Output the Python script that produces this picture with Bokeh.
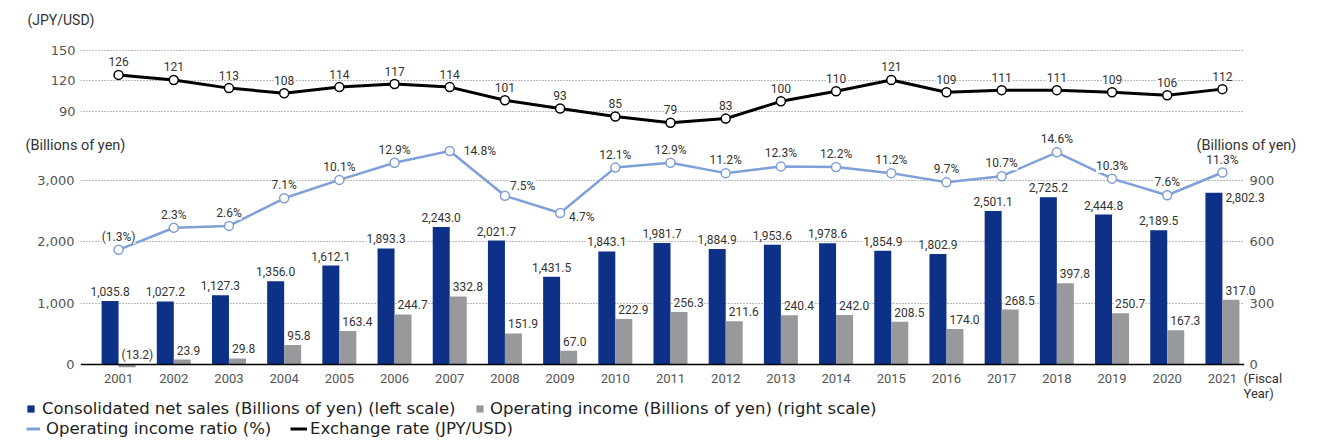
import numpy as np
from bokeh.plotting import figure
from bokeh.models import (ColumnDataSource, Range1d, LinearAxis, FixedTicker,
                          NumeralTickFormatter, LabelSet, Label, Span, Legend, LegendItem)
from bokeh.core.properties import value
from bokeh.layouts import column
from bokeh.embed import file_html
from bokeh.resources import INLINE

# ---------------- data ----------------
years = list(range(2001, 2022))
net_sales = [1035.8, 1027.2, 1127.3, 1356.0, 1612.1, 1893.3, 2243.0, 2021.7, 1431.5, 1843.1,
             1981.7, 1884.9, 1953.6, 1978.6, 1854.9, 1802.9, 2501.1, 2725.2, 2444.8, 2189.5, 2802.3]
op_income = [-13.2, 23.9, 29.8, 95.8, 163.4, 244.7, 332.8, 151.9, 67.0, 222.9,
             256.3, 211.6, 240.4, 242.0, 208.5, 174.0, 268.5, 397.8, 250.7, 167.3, 317.0]
op_ratio = [-1.3, 2.3, 2.6, 7.1, 10.1, 12.9, 14.8, 7.5, 4.7, 12.1,
            12.9, 11.2, 12.3, 12.2, 11.2, 9.7, 10.7, 14.6, 10.3, 7.6, 11.3]
fx_rate = [126, 121, 113, 108, 114, 117, 114, 101, 93, 85,
           79, 83, 100, 110, 121, 109, 111, 111, 109, 106, 112]
fx_ticks = [90, 120, 150]
left_ticks = [0, 1000, 2000, 3000]
right_ticks = [0, 300, 600, 900]

# ---------------- style ----------------
NAVY = "#0E3188"
GRAY = "#97999C"
BLUE = "#7F9FD9"
TXT = "#333333"
TICK = "#555555"
GRID = "#777777"
FONT = "Roboto"
WIDE = "DejaVu Sans"

W = 1326
FL, FR = 80, 1244                 # frame left / right (px)
XL, XR = 2000.31, 2021.40
PX_X = (FR - FL) / (XR - XL)
BAR_W = 0.308
yrs = np.array(years, dtype=float)
x_range = Range1d(XL, XR)

# bottom chart geometry (page px)
B_TOP, B_H = 130, 270
BF_TOP, BF_BOT = 132, 370
LY0, LY1 = -97.83, 3782.6
K = (BF_BOT - BF_TOP) / (LY1 - LY0)
RIGHT_SCALE = 0.3                  # right axis = left axis * 0.3
RATIO_ZERO, RATIO_UNIT = 2000.0, 100.0


def right_of(v):
    return v * RIGHT_SCALE


def ratio_of(v):
    return (v - RATIO_ZERO) / RATIO_UNIT


def left_at(py):
    return LY0 + (BF_BOT - py) / K


def fmt_num(v):
    return f"({abs(v):,.1f})" if v < 0 else f"{v:,.1f}"


def fmt_pct(v):
    return f"({abs(v):.1f}%)" if v < 0 else f"{v:.1f}%"


def add_labels(fig, xs, ys, texts, align="center", xoff=0, yoff=0, size="12px",
               y_range_name="default"):
    src = ColumnDataSource(dict(x=list(xs), y=list(ys), t=list(texts)))
    ls = LabelSet(x="x", y="y", text="t", source=src, text_align=align,
                  text_baseline="middle", x_offset=xoff, y_offset=yoff,
                  text_font=value(FONT), text_font_size=size, text_color=TXT,
                  background_fill_color="white", y_range_name=y_range_name)
    fig.add_layout(ls)


def style_yaxis(ax, ticks, standoff):
    ax.ticker = FixedTicker(ticks=ticks)
    ax.axis_line_color = None
    ax.major_tick_line_color = None
    ax.minor_tick_line_color = None
    ax.major_tick_out = 0
    ax.major_tick_in = 0
    ax.minor_tick_out = 0
    ax.major_label_standoff = standoff
    ax.major_label_text_font = WIDE
    ax.major_label_text_font_size = "13px"
    ax.major_label_text_color = TICK


# ---------------- top: exchange rate ----------------
top = figure(width=W, height=130, x_range=x_range, y_range=Range1d(71.31, 171.64),
             output_backend="svg", toolbar_location=None, x_axis_location=None,
             min_border_left=FL, min_border_right=W - FR, min_border_top=28, min_border_bottom=0)
top.outline_line_color = None
top.xgrid.visible = False
style_yaxis(top.yaxis[0], fx_ticks, 5)
top.ygrid.ticker = FixedTicker(ticks=fx_ticks)
top.ygrid.grid_line_color = GRID
top.ygrid.grid_line_dash = "1 2"
top.ygrid.grid_line_width = 1
top.title.text = "(JPY/USD)"
top.title.align = "left"
top.title.offset = 27 - FL
top.title.standoff = 2
top.title.text_font = FONT
top.title.text_font_size = "14px"
top.title.text_font_style = "normal"
top.title.text_color = TXT

top.line(yrs, fx_rate, line_color="black", line_width=3)
top.scatter(yrs, fx_rate, size=9, fill_color="white", line_color="black", line_width=1.5)
add_labels(top, yrs, fx_rate, [str(v) for v in fx_rate], yoff=13)

# ---------------- bottom: sales / income / ratio ----------------
bot = figure(width=W, height=B_H, x_range=x_range, y_range=Range1d(LY0, LY1),
             output_backend="svg", toolbar_location=None,
             min_border_left=FL, min_border_right=W - FR, min_border_top=BF_TOP - B_TOP,
             min_border_bottom=B_TOP + B_H - BF_BOT)
bot.extra_y_ranges = {"right": Range1d(right_of(LY0), right_of(LY1)),
                      "ratio": Range1d(ratio_of(LY0), ratio_of(LY1))}
bot.outline_line_color = None
bot.xgrid.visible = False
style_yaxis(bot.yaxis[0], left_ticks, 6)
bot.yaxis[0].formatter = NumeralTickFormatter(format="0,0")
bot.ygrid.ticker = FixedTicker(ticks=left_ticks[1:])
bot.ygrid.grid_line_color = GRID
bot.ygrid.grid_line_dash = "1 2"
bot.ygrid.grid_line_width = 1

rax = LinearAxis(y_range_name="right")
style_yaxis(rax, right_ticks, 5)
bot.add_layout(rax, "right")

xax = bot.xaxis[0]
xax.ticker = FixedTicker(ticks=years)
xax.axis_line_color = None
xax.major_tick_line_color = None
xax.minor_tick_line_color = None
xax.major_tick_out = 0
xax.major_tick_in = 0
xax.minor_tick_out = 0
xax.major_label_standoff = 3
xax.major_label_text_font = FONT
xax.major_label_text_font_size = "13px"
xax.major_label_text_color = TICK

bot.vbar(x=yrs - BAR_W / 2, top=net_sales, bottom=0, width=BAR_W, fill_color=NAVY, line_color=None)
bot.vbar(x=yrs + BAR_W / 2, top=op_income, bottom=0, width=BAR_W, fill_color=GRAY, line_color=None,
         y_range_name="right")
bot.add_layout(Span(location=0, dimension="width", line_color="black", line_width=1.5))

bot.line(yrs, op_ratio, line_color=BLUE, line_width=2.5, y_range_name="ratio")
bot.scatter(yrs, op_ratio, size=9, fill_color="white", line_color=BLUE, line_width=1.5,
            y_range_name="ratio")

# ---------------- overlay: value labels, captions, legend ----------------
O_H = 446 - B_TOP
oy0, oy1 = left_at(446), left_at(B_TOP)
ox0, ox1 = XL - FL / PX_X, XR + (W - FR) / PX_X
ov = figure(width=W, height=O_H, x_range=Range1d(ox0, ox1), y_range=Range1d(oy0, oy1),
            output_backend="svg", toolbar_location=None, x_axis_location=None,
            y_axis_location=None, min_border=0, min_border_left=0, min_border_right=0,
            min_border_top=0, min_border_bottom=0, frame_align=False,
            margin=(-B_H, 0, 0, 0))
ov.extra_y_ranges = {"right": Range1d(right_of(oy0), right_of(oy1)),
                     "ratio": Range1d(ratio_of(oy0), ratio_of(oy1))}
ov.background_fill_alpha = 0
ov.border_fill_alpha = 0
ov.outline_line_color = None
ov.grid.visible = False

n = len(years)
# net sales labels (last one sits to the right of its bar)
add_labels(ov, (yrs - BAR_W / 2)[:n - 1], net_sales[:n - 1],
           [fmt_num(v) for v in net_sales[:n - 1]], yoff=9.5)
add_labels(ov, [yrs[n - 1]], [net_sales[n - 1]], [fmt_num(net_sales[n - 1])],
           align="left", xoff=3, yoff=-5)
# operating income labels
add_labels(ov, yrs, [max(v, 0) for v in op_income], [fmt_num(v) for v in op_income],
           align="left", xoff=3, yoff=9.5, y_range_name="right")
# ratio labels
special = {6: (14, 0), 7: (5, 10), 8: (9, -4)}
norm = [i for i in range(n) if i not in special]
add_labels(ov, [yrs[i] for i in norm], [op_ratio[i] for i in norm],
           [fmt_pct(op_ratio[i]) for i in norm], yoff=13, y_range_name="ratio")
for i, (dx, dy) in special.items():
    add_labels(ov, [yrs[i]], [op_ratio[i]], [fmt_pct(op_ratio[i])], align="left",
               xoff=dx, yoff=dy, y_range_name="ratio")


def caption(text, x, y_page, size="14.5px"):
    ov.add_layout(Label(x=x, y=446 - y_page, x_units="screen", y_units="screen", text=text,
                        text_baseline="middle", text_font=FONT, text_font_size=size,
                        text_color=TXT))


caption("(Billions of yen)", 25, 145)
caption("(Billions of yen)", 1196, 145)
caption("(Fiscal", 1243, 378, "13px")
caption("Year)", 1243, 393, "13px")

# legend (zero-size dummy renderers placed outside the visible range)
gx = [ox0 - 50, ox0 - 49]
gy = [oy0 - 5000, oy0 - 5000]
dsrc = ColumnDataSource(dict(x=gx, y=gy))
r1 = ov.vbar(x="x", top="y", bottom="y", width=0.3, source=dsrc, fill_color=NAVY, line_color=None)
r2 = ov.vbar(x="x", top="y", bottom="y", width=0.3, source=dsrc, fill_color=GRAY, line_color=None)
r3 = ov.line(x="x", y="y", source=dsrc, line_color=BLUE, line_width=3)
r4 = ov.line(x="x", y="y", source=dsrc, line_color="black", line_width=3)

entries = [
    ("Consolidated net sales (Billions of yen) (left scale)", r1, 26, 28, 9, 7),
    ("Operating income (Billions of yen) (right scale)", r2, 475, 28, 9, 6),
    ("Operating income ratio (%)", r3, 26, 8, 14, 6),
    ("Exchange rate (JPY/USD)", r4, 290, 8, 17, 3),
]
for label, r, lx, ly, gw, st in entries:
    lg = Legend(items=[LegendItem(label=label, renderers=[r])], location=(lx, ly),
                orientation="horizontal", glyph_width=gw, glyph_height=9, label_standoff=st,
                padding=0, margin=0, spacing=0, border_line_color=None,
                background_fill_alpha=0, label_text_font=WIDE, label_text_font_size="16.5px",
                label_text_color="#222222")
    ov.add_layout(lg)

layout = column(top, bot, ov, spacing=0)
open("out.html", "w").write(file_html(layout, INLINE))
